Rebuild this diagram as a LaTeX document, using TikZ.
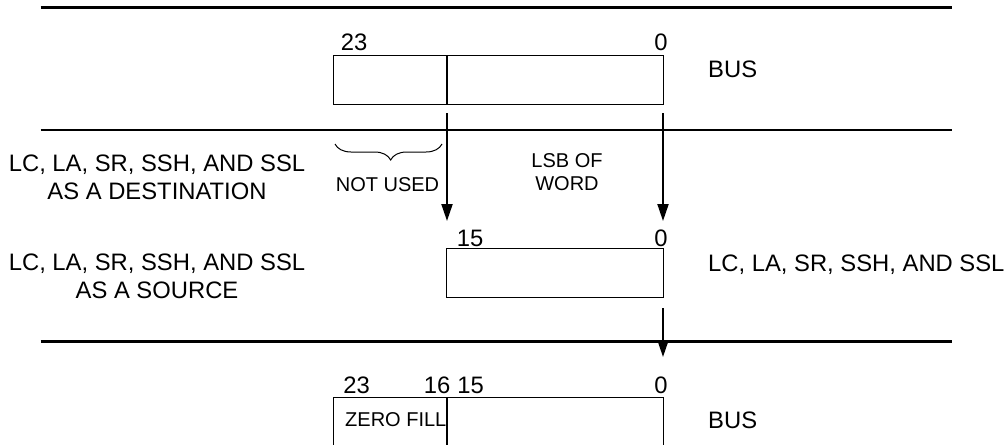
\documentclass[tikz,border=0pt]{standalone}
\usepackage{fontspec}
\setmainfont{Liberation Sans}
\usetikzlibrary{arrows.meta,decorations.pathreplacing}
\begin{document}
\begin{tikzpicture}[x=1pt,y=-1pt,
  busline/.style={line width=2.8pt},
  regbox/.style={draw,line width=1pt},
  divider/.style={line width=2pt},
  flow/.style={line width=2pt,-{Triangle[length=17pt,width=11pt]}},
  big/.style={inner sep=0pt,font=\fontsize{23.8}{27.5}\selectfont},
  small/.style={inner sep=0pt,font=\fontsize{20}{23.5}\selectfont},
  lbl/.style={big,align=center}]
\useasboundingbox (0,0) rectangle (1008,444);
% bus lines
\draw[busline] (40.5,7.5) -- (952,7.5);
\draw[busline] (40.5,130) -- (952,130);
\draw[busline] (40.5,341.5) -- (952,341.5);
% top register
\draw[regbox] (333,56) rectangle (663,104);
\coordinate (tdiv) at (447,104);
\coordinate (tright) at (663,104);
\draw[divider] (447,56) -- (tdiv);
\node[big] (t23) at (354,42) {23};
\node[big] (t0) at (661,42) {0};
\node[big,anchor=west] (bus1) at (708,69) {BUS};
% arrows to middle register
\coordinate (a1s) at (447,113);
\coordinate (a1e) at (447,221);
\coordinate (a2s) at (663,113);
\coordinate (a2e) at (663,221);
\draw[flow] (a1s) -- (a1e);
\draw[flow] (a2s) -- (a2e);
% brace
\draw[line width=1pt,decorate,decoration={brace,mirror,amplitude=16pt,aspect=0.52}] (335,144) -- (442,144);
\node[small] (notused) at (387.5,184.5) {NOT USED};
\node[small,align=center] (lsb) at (567,172) {LSB OF\\WORD};
% left labels
\node[lbl] (dest) at (157,177.5) {LC, LA, SR, SSH, AND SSL\\AS A DESTINATION};
\node[lbl] (src) at (157,276.5) {LC, LA, SR, SSH, AND SSL\\AS A SOURCE};
% middle register
\draw[regbox] (446,248) rectangle (663,297);
\node[big] (m15) at (470,238) {15};
\node[big] (m0) at (661,238) {0};
\node[big,anchor=west] (rlbl) at (708,265) {LC, LA, SR, SSH, AND SSL};
\coordinate (a3s) at (663,308);
\coordinate (a3e) at (663,357);
\draw[flow] (a3s) -- (a3e);
% bottom register
\draw[regbox] (333,460) -- (333,397) -- (663,397) -- (663,460);
\draw[divider] (447,397) -- (447,460);
\node[big] (b23) at (356.5,385.5) {23};
\node[big] (b16) at (437,385.5) {16};
\node[big] (b15) at (470.5,385.5) {15};
\node[big] (b0) at (661,385.5) {0};
\node[small,anchor=west] (zf) at (345,420) {ZERO FILL};
\node[big,anchor=west] (bus2) at (708,420) {BUS};
\end{tikzpicture}
\end{document}
